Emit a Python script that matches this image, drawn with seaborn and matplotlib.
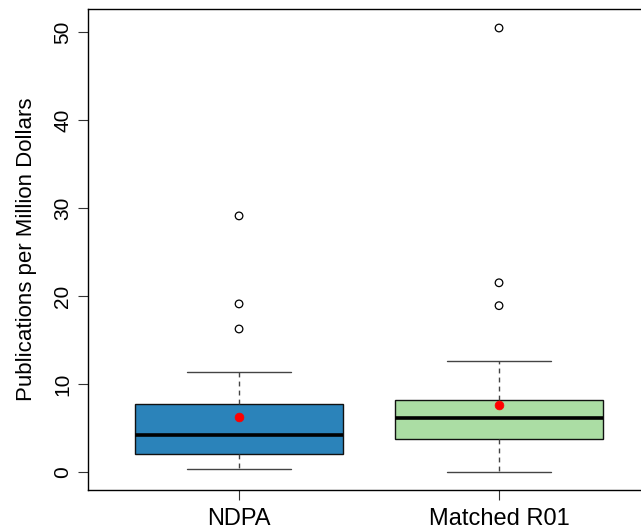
import numpy as np
import pandas as pd
import matplotlib
matplotlib.use("Agg")
import matplotlib.pyplot as plt
import seaborn as sns

# Summary values
groups = ["NDPA", "Matched R01"]
whisker_low = [0.34, 0.0]
q1 = [2.05, 3.75]
medians = [4.2, 6.14]
q3 = [7.73, 8.18]
whisker_high = [11.36, 12.6]
means = [6.25, 7.6]
outliers_ndpa = [29.1, 19.1, 16.25]
outliers_r01 = [50.45, 21.5, 18.9]
colors = ["#2b83ba", "#abdda4"]
yticks = [0, 10, 20, 30, 40, 50]

sns.set_style("ticks")
plt.rcParams["font.family"] = ["Liberation Sans", "DejaVu Sans"]
plt.rcParams["text.color"] = "black"
plt.rcParams["xtick.color"] = "black"
plt.rcParams["ytick.color"] = "black"
plt.rcParams["axes.labelcolor"] = "black"

# five-number summary per group (quartiles reproduced exactly by linear percentiles)
rows = []
for g, lo, a, m, b, hi in zip(groups, whisker_low, q1, medians, q3, whisker_high):
    for v in (lo, a, m, b, hi):
        rows.append({"group": g, "value": v})
summary = pd.DataFrame(rows)

out_df = pd.DataFrame({
    "group": [groups[0]] * len(outliers_ndpa) + [groups[1]] * len(outliers_r01),
    "value": outliers_ndpa + outliers_r01,
})
mean_df = pd.DataFrame({"group": groups, "value": means})

W, H = 641, 531
fig = plt.figure(figsize=(W / 100, H / 100), dpi=100)
ax = fig.add_axes([88 / W, (H - 490) / H, (645 - 88) / W, (490 - 9) / H])

sns.boxplot(
    data=summary, x="group", y="value", hue="group", order=groups,
    palette=colors, saturation=1, width=0.8, whis=(0, 100), showfliers=False,
    linecolor="black", linewidth=1.0, legend=False, ax=ax,
    boxprops={"edgecolor": "#111111", "linewidth": 1.0},
    whiskerprops={"linestyle": (0, (3.5, 3)), "color": "#444444", "linewidth": 1.0},
    capprops={"color": "#444444", "linewidth": 1.0},
    medianprops={"color": "black", "linewidth": 2.6},
)

sns.scatterplot(data=out_df, x="group", y="value", ax=ax, marker="o",
                facecolor="none", edgecolor="black", linewidth=0.9, s=30,
                legend=False, zorder=5)
sns.scatterplot(data=mean_df, x="group", y="value", ax=ax, marker="o",
                color="red", edgecolor="red", s=40, legend=False, zorder=6)

ax.set_xlim(-0.581, 1.5615)
ax.set_ylim(-2.045, 52.61)
ax.set_yticks(yticks)
ax.set_yticklabels([str(t) for t in yticks], rotation=90, va="center", fontsize=15)
ax.set_xticks([0, 1])
ax.set_xticklabels(groups, fontsize=17)
ax.tick_params(axis="both", length=7.2, width=0.8, color="#333333")
ax.tick_params(axis="y", pad=4)
ax.tick_params(axis="x", pad=6)
ax.set_xlabel("")
ax.set_ylabel("Publications per Million Dollars", fontsize=16, labelpad=12)
for sp in ax.spines.values():
    sp.set_visible(True)
    sp.set_color("black")
    sp.set_linewidth(1.0)

fig.savefig("out.png", dpi=100)
